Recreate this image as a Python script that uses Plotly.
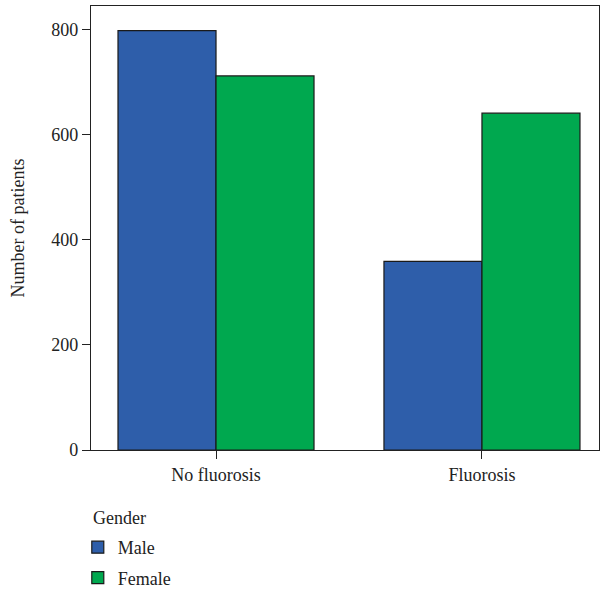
import plotly.graph_objects as go

categories = ["No fluorosis", "Fluorosis"]
male = [798, 359]
female = [712, 641]
y_ticks = [0, 200, 400, 600, 800]

font_family = "Liberation Serif, DejaVu Serif, serif"

fig = go.Figure()
fig.add_trace(go.Bar(x=categories, y=male, name="Male", legendgroup="m",
                     marker=dict(color="#2E5EAA", line=dict(color="#1a1a1a", width=1.2))))
fig.add_trace(go.Bar(x=categories, y=female, name="Female", legendgroup="f",
                     marker=dict(color="#00A84F", line=dict(color="#1a1a1a", width=1.2))))

fig.update_layout(
    width=606, height=590,
    margin=dict(l=91, r=7, t=6, b=140, autoexpand=False),
    paper_bgcolor="white", plot_bgcolor="white",
    barmode="group", bargap=0.263, bargroupgap=0,
    font=dict(family=font_family, size=18, color="#222"),
    showlegend=True,
    legend=dict(
        orientation="v", x=-0.026, xanchor="left",
        yref="container", y=1 - 529 / 590, yanchor="top",
        font=dict(size=18), tracegroupgap=4,
        bgcolor="rgba(0,0,0,0)",
    ),
    annotations=[dict(text="Gender", xref="paper", yref="paper",
                      x=0, xanchor="left", y=(450 - 518) / 444, yanchor="middle",
                      showarrow=False, font=dict(size=18))],
    xaxis=dict(
        type="category", range=[-0.47, 1.44], automargin=False,
        showline=True, linecolor="#222", linewidth=1.2, mirror=True,
        ticks="outside", ticklen=8, tickcolor="#222",
        showgrid=False, zeroline=False,
        tickfont=dict(size=18),
    ),
    yaxis=dict(
        range=[0, 845], automargin=False,
        tickvals=y_ticks,
        showline=True, linecolor="#222", linewidth=1.2, mirror=True,
        ticks="outside", ticklen=8, tickcolor="#222",
        showgrid=False, zeroline=False,
        title=dict(text="Number of patients", font=dict(size=18), standoff=21),
        tickfont=dict(size=18),
    ),
)

fig.write_html("out.html",
               config={"displayModeBar": False},
               post_script="document.body.style.margin='0';document.body.style.overflow='hidden';")
